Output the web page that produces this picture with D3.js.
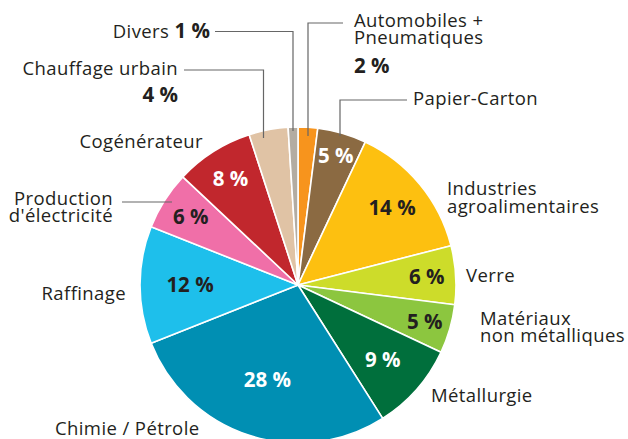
<!DOCTYPE html>
<html><head><meta charset="utf-8">
<script src="https://cdn.jsdelivr.net/npm/d3@7"></script>
<style>
body{margin:0;background:#fff;}
text{font-family:"Open Sans",sans-serif;}
</style></head>
<body><svg id="c" width="628" height="439"></svg>
<script>
const categories = ["Automobiles + Pneumatiques","Papier-Carton","Industries agroalimentaires","Verre","Matériaux non métalliques","Métallurgie","Chimie / Pétrole","Raffinage","Production d'électricité","Cogénérateur","Chauffage urbain","Divers"];
const values = [2,5,14,6,5,9,28,12,6,8,4,1];
const colors = ["#f7941d","#8b6a42","#fdc010","#cddc2a","#8cc63f","#006f3c","#008fb3","#1ebfeb","#f06fa8","#c1272d","#e0c3a5","#b3aca2"];
const pctLabelInside = [false,true,true,true,true,true,true,true,true,true,false,false];
const pctLabelWhite = [false,true,false,false,false,true,true,false,false,true,false,false];

const svg = d3.select("#c");
const cx = 298, cy = 285, R = 158;
const g = svg.append("g").attr("transform",`translate(${cx},${cy})`);
const pie = d3.pie().sort(null).value(d=>d)(values);
const arc = d3.arc().innerRadius(0).outerRadius(R);
g.selectAll("path").data(pie).join("path")
  .attr("d",arc).attr("fill",(d,i)=>colors[i])
  .attr("stroke","#fff").attr("stroke-width",1.6).attr("stroke-linejoin","round");

const pfs = 20.5;
// label radii (layout)
const lr = [0,135,122,129,132,113,99,108,127,126,0,0];
pie.forEach((d,i)=>{
  if(!pctLabelInside[i]) return;
  const a = (d.startAngle+d.endAngle)/2;
  const x = Math.sin(a)*lr[i], y = -Math.cos(a)*lr[i];
  g.append("text").attr("x",x).attr("y",y).attr("dy","0.36em")
   .attr("text-anchor","middle").attr("font-weight","bold").attr("font-size",pfs)
   .attr("fill",pctLabelWhite[i]?"#fff":"#231f20").text(values[i]+" %");
});

const lineCol = "#666";
function leader(pts){
  svg.append("polyline").attr("points",pts.map(p=>p.join(",")).join(" "))
   .attr("fill","none").attr("stroke",lineCol).attr("stroke-width",1.2);
}
leader([[215,31.5],[293,31.5],[293,131]]);
leader([[184,70],[263.5,70],[263.5,138]]);
leader([[343,23],[308,23],[308,136]]);
leader([[407,100],[340,100],[340,136]]);
leader([[122,202],[172,202]]);

const fs = 18.5;
function txt(x,y,anchor,parts){
  const t = svg.append("text").attr("x",x).attr("y",y).attr("text-anchor",anchor)
    .attr("font-size",fs).attr("fill","#231f20");
  parts.forEach(p=>{
    t.append("tspan").attr("font-weight",p.b?"bold":"normal").attr("font-size",p.b?pfs:fs)
     .attr("letter-spacing",p.b?0:0.4).text(p.t);
  });
}
txt(210,38,"end",[{t:"Divers "},{t:"1 %",b:true}]);
txt(178,75,"end",[{t:"Chauffage urbain"}]);
txt(178,102,"end",[{t:"4 %",b:true}]);
txt(354,27,"start",[{t:"Automobiles +"}]);
txt(354,44,"start",[{t:"Pneumatiques"}]);
txt(354,73,"start",[{t:"2 %",b:true}]);
txt(413,105,"start",[{t:"Papier-Carton"}]);
txt(447,195,"start",[{t:"Industries"}]);
txt(447,213,"start",[{t:"agroalimentaires"}]);
txt(466,282,"start",[{t:"Verre"}]);
txt(480,325,"start",[{t:"Matériaux"}]);
txt(480,342,"start",[{t:"non métalliques"}]);
txt(431,402,"start",[{t:"Métallurgie"}]);
txt(55,435,"start",[{t:"Chimie / Pétrole"}]);
txt(126,300,"end",[{t:"Raffinage"}]);
txt(113,205,"end",[{t:"Production"}]);
txt(113,222,"end",[{t:"d'électricité"}]);
txt(203,148,"end",[{t:"Cogénérateur"}]);
</script></body></html>
